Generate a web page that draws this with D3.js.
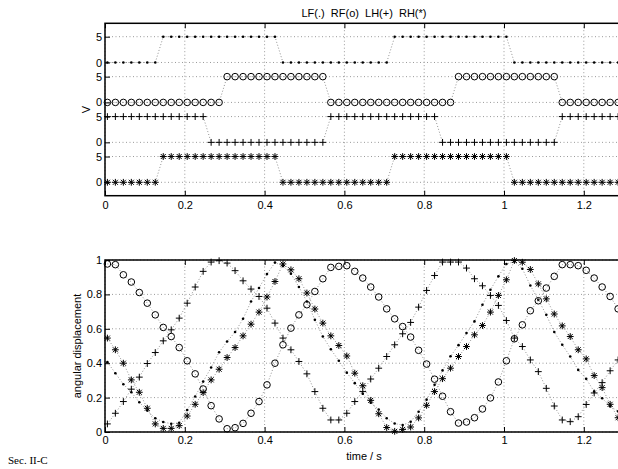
<!DOCTYPE html>
<html>
<head>
<meta charset="utf-8">
<script src="https://cdn.jsdelivr.net/npm/d3@7"></script>
<style>
  body { margin: 0; background: #fff; }
  svg { display: block; font-family: "Liberation Sans", Arial, Helvetica, sans-serif; }
  .grid line { stroke: #9a9a9a; stroke-width: 1; stroke-dasharray: 1,2.5; }
  .trace { fill: none; stroke: #777; stroke-width: 0.8; stroke-dasharray: 1,2; }
  .frame { fill: none; stroke: #000; stroke-width: 1.5; }
  .axis path { display: none; }
  .axis line { stroke: #000; stroke-width: 1; }
  .axis text { font-size: 11px; fill: #000; font-family: "Liberation Sans", Arial, sans-serif; }
  .marker { fill: none; stroke: #000; stroke-width: 1; }
  .marker.dot { fill: #000; stroke: none; }
</style>
</head>
<body>
<div id="figure"></div>
<script>
//gait figure: foot switch signals on top, joint angles below
(function(){

  //sample instants (s), one sample every 0.02 s
  var sampleTimes = [0.006, 0.026, 0.046, 0.066, 0.086, 0.106, 0.126, 0.146, 0.166, 0.186,
    0.206, 0.226, 0.246, 0.266, 0.286, 0.306, 0.326, 0.346, 0.366, 0.386,
    0.406, 0.426, 0.446, 0.466, 0.486, 0.506, 0.526, 0.546, 0.566, 0.586,
    0.606, 0.626, 0.646, 0.666, 0.686, 0.706, 0.726, 0.746, 0.766, 0.786,
    0.806, 0.826, 0.846, 0.866, 0.886, 0.906, 0.926, 0.946, 0.966, 0.986,
    1.006, 1.026, 1.046, 1.066, 1.086, 1.106, 1.126, 1.146, 1.166, 1.186,
    1.206, 1.226, 1.246, 1.266, 1.286];

  //foot switch voltages (V)
  var footLF = [0,0,0,0,0,0,0, 5,5,5,5,5,5,5,5,5,5,5,5,5,5,5,
    0,0,0,0,0,0,0,0,0,0,0,0,0,0, 5,5,5,5,5,5,5,5,5,5,5,5,5,5,5,
    0,0,0,0,0,0,0,0,0,0,0,0,0,0];
  var footRF = [0,0,0,0,0,0,0,0,0,0,0,0,0,0,0, 5,5,5,5,5,5,5,5,5,5,5,5,5,
    0,0,0,0,0,0,0,0,0,0,0,0,0,0,0,0, 5,5,5,5,5,5,5,5,5,5,5,5,5,
    0,0,0,0,0,0,0,0];
  var footLH = [5,5,5,5,5,5,5,5,5,5,5,5,5, 0,0,0,0,0,0,0,0,0,0,0,0,0,0,0,
    5,5,5,5,5,5,5,5,5,5,5,5,5,5, 0,0,0,0,0,0,0,0,0,0,0,0,0,0,0,
    5,5,5,5,5,5,5,5];
  var footRH = [0,0,0,0,0,0,0, 5,5,5,5,5,5,5,5,5,5,5,5,5,5,5,
    0,0,0,0,0,0,0,0,0,0,0,0,0,0, 5,5,5,5,5,5,5,5,5,5,5,5,5,5,5,
    0,0,0,0,0,0,0,0,0,0,0,0,0,0];

  //normalised angular displacement
  var angleLF = [0.406, 0.342, 0.278, 0.231, 0.173, 0.125, 0.080, 0.058, 0.048, 0.054,
    0.128, 0.206, 0.293, 0.375, 0.464, 0.526, 0.581, 0.658, 0.759, 0.837,
    0.918, 0.985, 0.965, 0.920, 0.843, 0.759, 0.652, 0.555, 0.481, 0.414,
    0.345, 0.284, 0.222, 0.170, 0.131, 0.080, 0.049, 0.040, 0.060, 0.118,
    0.188, 0.274, 0.358, 0.440, 0.505, 0.575, 0.643, 0.740, 0.827, 0.905,
    0.977, 0.990, 0.949, 0.852, 0.769, 0.681, 0.581, 0.507, 0.439, 0.361,
    0.309, 0.235, 0.196, 0.150, 0.120];
  var angleRF = [0.977, 0.973, 0.914, 0.872, 0.811, 0.749, 0.681, 0.608, 0.555, 0.491,
    0.414, 0.338, 0.250, 0.153, 0.076, 0.019, 0.025, 0.050, 0.109, 0.177,
    0.274, 0.400, 0.507, 0.604, 0.681, 0.740, 0.817, 0.891, 0.957, 0.963,
    0.967, 0.934, 0.895, 0.843, 0.785, 0.716, 0.658, 0.613, 0.552, 0.475,
    0.395, 0.307, 0.208, 0.118, 0.052, 0.058, 0.083, 0.134, 0.198, 0.291,
    0.414, 0.542, 0.623, 0.705, 0.763, 0.837, 0.905, 0.973, 0.973, 0.967,
    0.940, 0.895, 0.843, 0.788, 0.716];
  var angleLH = [0.047, 0.109, 0.177, 0.249, 0.319, 0.398, 0.462, 0.530, 0.594, 0.662,
    0.749, 0.843, 0.934, 0.988, 0.996, 0.982, 0.938, 0.879, 0.831, 0.788,
    0.720, 0.633, 0.546, 0.478, 0.410, 0.338, 0.235, 0.138, 0.070, 0.070,
    0.109, 0.177, 0.235, 0.308, 0.371, 0.439, 0.507, 0.571, 0.637, 0.726,
    0.823, 0.910, 0.988, 0.988, 0.988, 0.953, 0.891, 0.850, 0.794, 0.736,
    0.648, 0.546, 0.497, 0.419, 0.351, 0.254, 0.151, 0.070, 0.060, 0.089,
    0.160, 0.227, 0.287, 0.356, 0.419];
  var angleRH = [0.546, 0.478, 0.400, 0.303, 0.231, 0.138, 0.047, 0.021, 0.021, 0.037,
    0.093, 0.161, 0.229, 0.303, 0.365, 0.433, 0.491, 0.559, 0.627, 0.697,
    0.785, 0.875, 0.977, 0.943, 0.891, 0.808, 0.715, 0.633, 0.559, 0.503,
    0.442, 0.342, 0.269, 0.184, 0.106, 0.026, 0.004, 0.015, 0.029, 0.082,
    0.155, 0.235, 0.310, 0.371, 0.439, 0.497, 0.565, 0.619, 0.697, 0.794,
    0.885, 0.997, 0.987, 0.945, 0.861, 0.774, 0.686, 0.617, 0.555, 0.478,
    0.425, 0.328, 0.258, 0.161, 0.083];

  var titleText = "LF(.)  RF(o)  LH(+)  RH(*)";
  var timeTicks = [0, 0.2, 0.4, 0.6, 0.8, 1, 1.2];
  var angleTicks = [0, 0.2, 0.4, 0.6, 0.8, 1];
  var footLevels = [0, 5];

  //figure size
  var width = 618, height = 469;

  var svg = d3.select("#figure")
      .append("svg")
      .attr("width", width)
      .attr("height", height);

  //shared time scale, axis runs to 1.3 s and is cut by the page edge
  var x = d3.scaleLinear()
      .domain([0, 1.3])
      .range([105, 623.7]);

  //foot switch panel: four traces stacked with an offset
  var traceOffsets = [23.25, 15.5, 7.75, 0];   //LF, RF, LH, RH
  var yFoot = d3.scaleLinear()
      .domain([-2.6, 30.85])
      .range([195.7, 23.3]);

  var yAngle = d3.scaleLinear()
      .domain([0, 1])
      .range([432, 260]);

  var kinds = ["dot", "circle", "plus", "star"];

  //marker outlines, centred on 0,0
  function markerPath(kind){
    var s = 3.4, a = 2.5;
    if (kind == "plus") return "M" + (-s) + ",0H" + s + "M0," + (-s) + "V" + s;
    if (kind == "star") return "M" + (-s) + ",0H" + s + "M0," + (-s) + "V" + s +
        "M" + (-a) + "," + (-a) + "L" + a + "," + a + "M" + (-a) + "," + a + "L" + a + "," + (-a);
    return "";
  };

  function drawMarkers(g, values, kind, yScale, offset){
    var pts = sampleTimes.map(function(t, i){ return [t, values[i] + offset]; });

    //dotted connecting line
    g.append("path")
        .datum(pts)
        .attr("class", "trace")
        .attr("d", d3.line()
            .x(function(d){ return x(d[0]); })
            .y(function(d){ return yScale(d[1]); }));

    if (kind == "circle" || kind == "dot"){
      g.selectAll(".m" + kind)
          .data(pts)
          .enter()
          .append("circle")
          .attr("class", "marker " + kind)
          .attr("cx", function(d){ return x(d[0]); })
          .attr("cy", function(d){ return yScale(d[1]); })
          .attr("r", kind == "circle" ? 3.3 : 1.3);
    } else {
      g.selectAll(".m" + kind)
          .data(pts)
          .enter()
          .append("path")
          .attr("class", "marker " + kind)
          .attr("transform", function(d){ return "translate(" + x(d[0]) + "," + yScale(d[1]) + ")"; })
          .attr("d", markerPath(kind));
    }
  };

  function drawGrid(g, xVals, yVals, yScale){
    var grid = g.append("g").attr("class", "grid");
    var r = yScale.range();
    grid.selectAll(".gx")
        .data(xVals)
        .enter()
        .append("line")
        .attr("x1", function(d){ return x(d); })
        .attr("x2", function(d){ return x(d); })
        .attr("y1", r[0])
        .attr("y2", r[1]);
    grid.selectAll(".gy")
        .data(yVals)
        .enter()
        .append("line")
        .attr("x1", x.range()[0])
        .attr("x2", x.range()[1])
        .attr("y1", function(d){ return yScale(d); })
        .attr("y2", function(d){ return yScale(d); });
  };

  function drawAxes(g, yScale, yVals, yFormat, xPad){
    var r = yScale.range();
    g.append("g")
        .attr("class", "axis")
        .attr("transform", "translate(0," + r[0] + ")")
        .call(d3.axisBottom(x).tickValues(timeTicks).tickSize(-5).tickPadding(xPad)
            .tickFormat(d3.format("~g")));
    g.append("g")
        .attr("class", "axis")
        .attr("transform", "translate(0," + r[1] + ")")
        .call(d3.axisTop(x).tickValues(timeTicks).tickSize(-5).tickFormat(""));
    g.append("g")
        .attr("class", "axis")
        .attr("transform", "translate(" + x.range()[0] + ",0)")
        .call(d3.axisLeft(yScale).tickValues(yVals).tickSize(-5).tickPadding(3)
            .tickFormat(yFormat));
    g.append("rect")
        .attr("class", "frame")
        .attr("x", x.range()[0])
        .attr("y", r[1])
        .attr("width", x.range()[1] - x.range()[0])
        .attr("height", r[0] - r[1]);
  };

  //---- top panel ----
  var top = svg.append("g");
  var footTickVals = [], footTickText = {};
  traceOffsets.forEach(function(off){
    footLevels.forEach(function(v){
      footTickVals.push(off + v);
      footTickText[off + v] = String(v);
    });
  });
  drawGrid(top, timeTicks, footTickVals, yFoot);
  [footLF, footRF, footLH, footRH].forEach(function(vals, i){
    drawMarkers(top, vals, kinds[i], yFoot, traceOffsets[i]);
  });
  drawAxes(top, yFoot, footTickVals, function(d){ return footTickText[d]; }, 6);

  top.append("text")
      .attr("x", 364)
      .attr("y", 16.5)
      .attr("text-anchor", "middle")
      .style("font-size", "11px")
      .style("white-space", "pre")
      .text(titleText);

  top.append("text")
      .attr("transform", "translate(90,109.5) rotate(-90)")
      .attr("text-anchor", "middle")
      .style("font-size", "11px")
      .text("V");

  //---- bottom panel ----
  var bottom = svg.append("g");
  drawGrid(bottom, timeTicks, angleTicks, yAngle);
  [angleLF, angleRF, angleLH, angleRH].forEach(function(vals, i){
    drawMarkers(bottom, vals, kinds[i], yAngle, 0);
  });
  drawAxes(bottom, yAngle, angleTicks, d3.format("~g"), 4);

  bottom.append("text")
      .attr("transform", "translate(81,346) rotate(-90)")
      .attr("text-anchor", "middle")
      .style("font-size", "11px")
      .text("angular displacement");

  bottom.append("text")
      .attr("x", 364)
      .attr("y", 460)
      .attr("text-anchor", "middle")
      .style("font-size", "11px")
      .text("time / s");

  //page caption left of the figure
  svg.append("text")
      .attr("x", 8)
      .attr("y", 464)
      .style("font-family", "'Liberation Serif', 'Times New Roman', serif")
      .style("font-size", "11px")
      .text("Sec. II-C");

})();
</script>
</body>
</html>
